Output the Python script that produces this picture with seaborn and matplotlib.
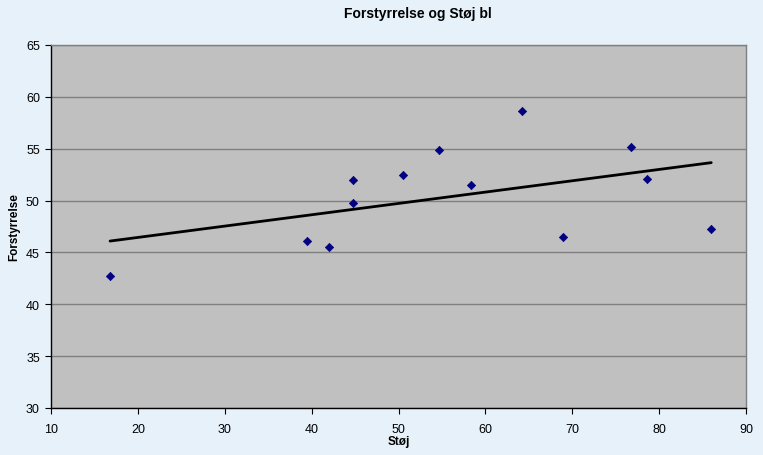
import numpy as np
import pandas as pd
import seaborn as sns
import matplotlib.pyplot as plt

# data
stoej = [16.8, 39.5, 42.0, 44.8, 44.8, 50.5, 54.7, 58.3, 64.2, 68.9, 76.8, 78.6, 86.0]
forstyrrelse = [42.7, 46.1, 45.5, 52.0, 49.8, 52.5, 54.9, 51.5, 58.6, 46.5, 55.2, 52.1, 47.3]

df = pd.DataFrame({"Støj": stoej, "Forstyrrelse": forstyrrelse})

sns.set_theme(style="white")
plt.rcParams['font.family'] = ['Liberation Sans', 'DejaVu Sans']
plt.rcParams['text.color'] = 'black'
plt.rcParams['axes.labelcolor'] = 'black'

bg = "#E7F1F9"
fig = plt.figure(figsize=(7.63, 4.56), dpi=100, facecolor=bg)
ax = fig.add_axes([51/763, 47/456, 695/763, 363/456])
ax.set_facecolor("#C0C0C0")

sns.regplot(data=df, x="Støj", y="Forstyrrelse", ax=ax, ci=None, truncate=True,
            marker="D", color="#000080",
            scatter_kws=dict(s=18, color="#000080", edgecolor="#000080", linewidths=0.5,
                             alpha=1, zorder=3),
            line_kws=dict(color="black", lw=2, zorder=2))

ax.set_xlim(10, 90)
ax.set_ylim(30, 65)
ax.set_xticks(range(10, 91, 10))
ax.set_yticks(range(30, 66, 5))
ax.yaxis.grid(True, color="#808080", lw=1)
ax.set_axisbelow(True)
ax.tick_params(axis="both", labelsize=9, length=4, width=0.8, direction="out",
               left=True, bottom=True, colors="black")
ax.tick_params(axis="x", pad=7)
ax.tick_params(axis="y", pad=4)
for s in ["left", "bottom"]:
    ax.spines[s].set_color("black")
    ax.spines[s].set_linewidth(1)
for s in ["top", "right"]:
    ax.spines[s].set_color("#808080")
    ax.spines[s].set_linewidth(1)

ax.set_xlabel("Støj", fontsize=8.5, fontweight="bold", labelpad=0)
ax.set_ylabel("Forstyrrelse", fontsize=8.5, fontweight="bold", labelpad=4)
fig.text(418/763, 1 - 14/456, "Forstyrrelse og Støj bl", ha="center", va="center",
         fontsize=10, fontweight="bold")

fig.savefig("out.png", dpi=100, facecolor=bg)
